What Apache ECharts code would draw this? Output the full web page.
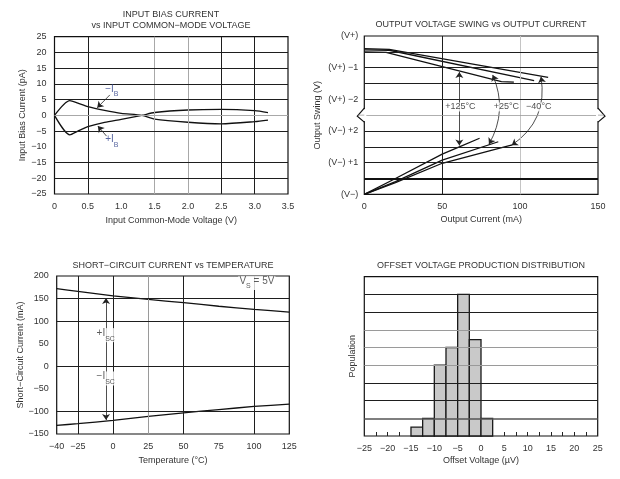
<!DOCTYPE html>
<html><head><meta charset="utf-8">
<script src="https://cdn.jsdelivr.net/npm/echarts@6/dist/echarts.min.js"></script>
<style>html,body{margin:0;padding:0;background:#fff}#c{width:620px;height:479px}</style>
</head><body><div id="c"></div>
<script>
// ---------- Plot 1: input bias current ----------
const biasV   = [0, 0.23, 0.35, 0.5, 0.75, 1.0, 1.31, 1.5, 2.0, 2.5, 3.0, 3.2];
const ibMinus = [0, 4.7, 3.9, 2.8, 1.6, 0.65, 0, -1.2, -2.2, -2.7, -2.0, -1.5];
const ibPlus  = [0, -6.2, -5.0, -3.6, -2.2, -1.25, 0, 0.9, 1.7, 1.9, 1.5, 0.9];
const biasGridX = [0.5, 1.5, 2.0, 2.5, 3.0];
const biasGridY = [20, 15, 10, 5, 0, -5, -15, -20];

// ---------- Plot 2: output swing (units of 0.5 V from rail, 0..5) ----------
const swingHiM40X = [0, 16, 118],      swingHiM40 = [4.6, 4.58, 3.69];
const swingHi25X  = [0, 16, 109],      swingHi25  = [4.56, 4.55, 3.59];
const swingHi125X = [0, 14, 88, 96],   swingHi125 = [4.5, 4.48, 3.56, 3.54];
const swingLo125X = [0, 20, 50, 61, 74], swingLo125 = [0, 0.5, 1.27, 1.5, 1.77];
const swingLo25X  = [0, 20, 50, 86],   swingLo25  = [0, 0.4, 1.08, 1.66];
const swingLoM40X = [0, 20, 50, 90, 95], swingLoM40 = [0, 0.37, 0.98, 1.5, 1.56];
const swingYLabels = {0: '(V\u2212)', 1: '(V\u2212) +1', 2: '(V\u2212) +2', 3: '(V+) \u22122', 4: '(V+) \u22121', 5: '(V+)'};
const swingGridY = [0.5, 1, 1.5, 2, 2.5, 3, 3.5, 4, 4.5];
const swingGridX = [50, 100];

// ---------- Plot 3: short-circuit current ----------
const temps     = [-40, -25, 0, 25, 50, 75, 100, 125];
const iscPlus   = [172, 166, 156, 148, 141, 133, 126, 120];
const iscMinus  = [-131, -127, -120, -111, -103, -96, -89, -84];
const tempTicks = [-40, -25, 0, 25, 50, 75, 100, 125];
const iscGridX  = [-25, 0, 25, 50, 100];
const iscGridY  = [150, 100, 0, -100];

// ---------- Plot 4: offset voltage histogram ----------
const binStart   = [-15, -12.5, -10, -7.5, -5, -2.5, 0];
const binWidth   = 2.5;
const population = [0.5, 1, 4, 5, 8, 5.45, 1];
const popGridY   = [1, 2, 3, 4, 5, 6, 7, 8];

const FONT = '"Liberation Sans", Arial, sans-serif';
const TXT = '#333';
const minus = v => String(v).replace('-', '\u2212');
const zip = (a, b) => a.map((v, i) => [v, b[i]]);

const chart = echarts.init(document.getElementById('c'));

const labelStyle = {color: TXT, fontSize: 9, fontFamily: FONT};
const nameStyle = {color: TXT, fontSize: 9, fontFamily: FONT};
function baseAxis(extra) {
  return Object.assign({
    type: 'value', axisLine: {show: false}, axisTick: {show: false},
    splitLine: {show: false}, nameLocation: 'middle', nameTextStyle: nameStyle
  }, extra);
}
function gridSeries(idx, xs, ys, styleX, styleY) {
  const data = [];
  xs.forEach((v, i) => data.push({xAxis: v, lineStyle: styleX(v, i)}));
  ys.forEach((v, i) => data.push({yAxis: v, lineStyle: styleY(v, i)}));
  return {
    type: 'line', xAxisIndex: idx, yAxisIndex: idx, data: [], z: 1, silent: true,
    markLine: {symbol: 'none', silent: true, animation: false, label: {show: false},
      lineStyle: {type: 'solid'}, data: data}
  };
}
const dark = {color: '#1e1e1e', width: 1, type: 'solid'};
const light = {color: '#a8a8a8', width: 1, type: 'solid'};
function curve(idx, xs, ys, smooth) {
  return {type: 'line', xAxisIndex: idx, yAxisIndex: idx, data: zip(xs, ys), showSymbol: false,
    smooth: smooth || false, lineStyle: {color: '#111', width: 1.3}, z: 3, silent: true, animation: false};
}
function arrows(idx, lines) {
  return {type: 'line', xAxisIndex: idx, yAxisIndex: idx, data: [], z: 4, silent: true,
    markLine: {silent: true, animation: false, label: {show: false}, symbolSize: 6,
      lineStyle: {type: 'solid', color: '#222', width: 0.8},
      data: lines}};
}
function mkRich(color) {
  return {
    m: {fontSize: 10, color: color, fontFamily: FONT, lineHeight: 14, verticalAlign: 'top'},
    s: {fontSize: 7, color: color, fontFamily: FONT, lineHeight: 14, verticalAlign: 'bottom'}
  };
}
function notes(idx, items, color, bg) {
  return {type: 'scatter', xAxisIndex: idx, yAxisIndex: idx, z: 6, silent: true, animation: false,
    symbolSize: 1, itemStyle: {color: 'transparent'},
    data: items.map(it => ({value: it.at, label: {show: true, position: 'inside',
      formatter: it.text, rich: mkRich(color),
      color: color, fontSize: 9, fontFamily: FONT,
      backgroundColor: bg ? '#fff' : 'transparent', padding: bg ? [0, 1] : 0}}))};
}

const option = {
  animation: false,
  title: [
    {text: 'INPUT BIAS CURRENT\nvs INPUT COMMON\u2212MODE VOLTAGE', left: 171, top: 8.5, textAlign: 'center', padding: 0,
      textStyle: {fontSize: 9, fontWeight: 'normal', color: TXT, fontFamily: FONT, lineHeight: 11.4}},
    {text: 'OUTPUT VOLTAGE SWING vs OUTPUT CURRENT', left: 481, top: 19.5, textAlign: 'center', padding: 0,
      textStyle: {fontSize: 9, fontWeight: 'normal', color: TXT, fontFamily: FONT, lineHeight: 11}},
    {text: 'SHORT\u2212CIRCUIT CURRENT vs TEMPERATURE', left: 173, top: 260, textAlign: 'center', padding: 0,
      textStyle: {fontSize: 9, fontWeight: 'normal', color: TXT, fontFamily: FONT, lineHeight: 11}},
    {text: 'OFFSET VOLTAGE PRODUCTION DISTRIBUTION', left: 481, top: 260, textAlign: 'center', padding: 0,
      textStyle: {fontSize: 9, fontWeight: 'normal', color: TXT, fontFamily: FONT, lineHeight: 11}}
  ],
  grid: [
    {left: 54.5, top: 36.7, width: 233.5, height: 157.3},
    {left: 364.3, top: 36, width: 233.7, height: 158.3},
    {left: 56.7, top: 276, width: 232.6, height: 158},
    {left: 364.3, top: 276.7, width: 233.4, height: 159.3}
  ].map(g => Object.assign(g, {show: true, borderColor: '#111', borderWidth: 1.2, backgroundColor: 'transparent'})),
  xAxis: [
    baseAxis({gridIndex: 0, min: 0, max: 3.5, interval: 0.5, name: 'Input Common-Mode Voltage (V)', nameGap: 22,
      axisLabel: Object.assign({margin: 8, formatter: v => v === 0 ? '0' : v.toFixed(1)}, labelStyle)}),
    baseAxis({gridIndex: 1, min: 0, max: 150, interval: 50, name: 'Output Current (mA)', nameGap: 21,
      axisLabel: Object.assign({margin: 8}, labelStyle)}),
    baseAxis({gridIndex: 2, min: -40, max: 125, name: 'Temperature (\u00b0C)', nameGap: 22,
      axisLabel: Object.assign({margin: 8, customValues: tempTicks, formatter: minus}, labelStyle)}),
    baseAxis({gridIndex: 3, min: -25, max: 25, interval: 2.5, name: 'Offset Voltage (\u00b5V)', nameGap: 20,
      axisTick: {show: true, inside: true, length: 4, lineStyle: {color: '#222'}},
      axisLabel: Object.assign({margin: 8, formatter: v => (v % 5 === 0 ? minus(v) : '')}, labelStyle)})
  ],
  yAxis: [
    baseAxis({gridIndex: 0, min: -25, max: 25, interval: 5, name: 'Input Bias Current (pA)', nameGap: 27,
      axisLabel: Object.assign({margin: 8, formatter: minus}, labelStyle)}),
    baseAxis({gridIndex: 1, min: 0, max: 5, interval: 0.5, name: 'Output Swing (V)', nameGap: 42,
      axisLabel: Object.assign({margin: 6, formatter: v => (swingYLabels[v] !== undefined ? swingYLabels[v] : '')}, labelStyle)}),
    baseAxis({gridIndex: 2, min: -150, max: 200, interval: 50, name: 'Short\u2212Circuit Current (mA)', nameGap: 32,
      axisLabel: Object.assign({margin: 8, formatter: minus}, labelStyle)}),
    baseAxis({gridIndex: 3, min: 0, max: 9, interval: 1, name: 'Population', nameGap: 7,
      axisLabel: {show: false}})
  ],
  series: [
    // plot 1
    gridSeries(0, biasGridX, biasGridY,
      v => (v === 1.5 || v === 2.0) ? light : dark,
      v => v === 0 ? light : dark),
    curve(0, biasV, ibMinus, 0.25),
    curve(0, biasV, ibPlus, 0.25),
    arrows(0, [
      [{coord: [0.83, 6.5], symbol: 'none'}, {coord: [0.64, 2.4], symbol: 'arrow'}],
      [{coord: [0.78, -6.6], symbol: 'none'}, {coord: [0.65, -3.4], symbol: 'arrow'}]
    ]),
    notes(0, [
      {at: [0.86, 7.8], text: '{m|\u2212I}{s|B}'},
      {at: [0.86, -8.3], text: '{m|+I}{s|B}'}
    ], '#2f4189', false),
    // plot 2
    gridSeries(1, swingGridX, swingGridY,
      v => v === 100 ? {color: '#c4c4c4', width: 1, type: 'solid'} : dark,
      v => v === 2.5 ? {color: '#9a9a9a', width: 0.8, type: 'solid'} : (v === 0.5 ? {color: '#111', width: 2, type: 'solid'} : dark)),
    curve(1, swingHiM40X, swingHiM40),
    curve(1, swingHi25X, swingHi25),
    curve(1, swingHi125X, swingHi125),
    curve(1, swingLo125X, swingLo125),
    curve(1, swingLo25X, swingLo25),
    curve(1, swingLoM40X, swingLoM40),
    arrows(1, [
      [{coord: [61, 3.86], symbol: 'arrow'}, {coord: [61, 1.54], symbol: 'arrow'}]
    ]),
    {type: 'lines', coordinateSystem: 'cartesian2d', xAxisIndex: 1, yAxisIndex: 1, z: 4, silent: true, animation: false,
      symbol: ['arrow', 'arrow'], symbolSize: 6,
      itemStyle: {color: '#222', opacity: 1},
      lineStyle: {color: '#222', width: 0.8, type: 'solid', opacity: 1},
      data: [
        {coords: [[82.4, 3.77], [80, 1.58]], lineStyle: {curveness: 0.25}},
        {coords: [[113.4, 3.71], [94.6, 1.55]], lineStyle: {curveness: 0.32}}
      ]},
    notes(1, [
      {at: [61.7, 2.76], text: '+125\u00b0C'},
      {at: [91.2, 2.76], text: '+25\u00b0C'},
      {at: [112, 2.76], text: '\u221240\u00b0C'}
    ], '#222', true),
    {type: 'custom', xAxisIndex: 1, yAxisIndex: 1, z: 7, clip: false, silent: true, animation: false,
      data: [[0, 2.5], [150, 2.5]], encode: {x: 0, y: 1},
      renderItem: (params, api) => {
        const p = api.coord([api.value(0), api.value(1)]);
        const d = params.dataIndex === 0 ? -1 : 1;
        const x = p[0], y = p[1];
        return {type: 'group', children: [
          {type: 'rect', shape: {x: x - 2, y: y - 6, width: 4, height: 12}, style: {fill: '#fff'}},
          {type: 'polyline', shape: {points: [[x, y - 7], [x + d * 7, y + 1], [x, y + 7]]},
            style: {stroke: '#111', lineWidth: 1.2, fill: null}},
          {type: 'line', shape: {x1: x, y1: y, x2: x + d * 6, y2: y}, style: {stroke: '#9a9a9a', lineWidth: 0.8}}
        ]};
      }},
    // plot 3
    gridSeries(2, iscGridX, iscGridY,
      v => v === 25 ? {color: '#9a9a9a', width: 1, type: 'solid'} : dark,
      v => dark),
    curve(2, temps, iscPlus, 0.2),
    curve(2, temps, iscMinus, 0.2),
    arrows(2, [
      [{coord: [-5, 151], symbol: 'arrow'}, {coord: [-5, -119], symbol: 'arrow'}]
    ]),
    notes(2, [
      {at: [-5.2, 69], text: '{m|+I}{s|SC}'},
      {at: [-5.2, -27], text: '{m|\u2212I}{s|SC}'},
      {at: [102, 184.5], text: '{m|V}{s|S}{m| = 5V}'}
    ], TXT, true),
    // plot 4
    gridSeries(3, [], popGridY, v => dark,
      v => v === 1 ? {color: '#555', width: 1.6, type: 'solid'} : ((v >= 4 && v <= 6) ? {color: '#9a9a9a', width: 1, type: 'solid'} : dark)),
    {type: 'custom', xAxisIndex: 3, yAxisIndex: 3, z: 3, silent: true, animation: false,
      data: zip(binStart, population), encode: {x: 0, y: 1},
      renderItem: (params, api) => {
        const x0 = api.value(0), h = api.value(1);
        const a = api.coord([x0, h]), b = api.coord([x0 + binWidth, 0]);
        return {type: 'rect', shape: {x: a[0], y: a[1], width: b[0] - a[0], height: b[1] - a[1]},
          style: {fill: '#c9c9c9', stroke: '#1a1a1a', lineWidth: 1.3}};
      }}
  ]
};
chart.setOption(option);
</script></body></html>
